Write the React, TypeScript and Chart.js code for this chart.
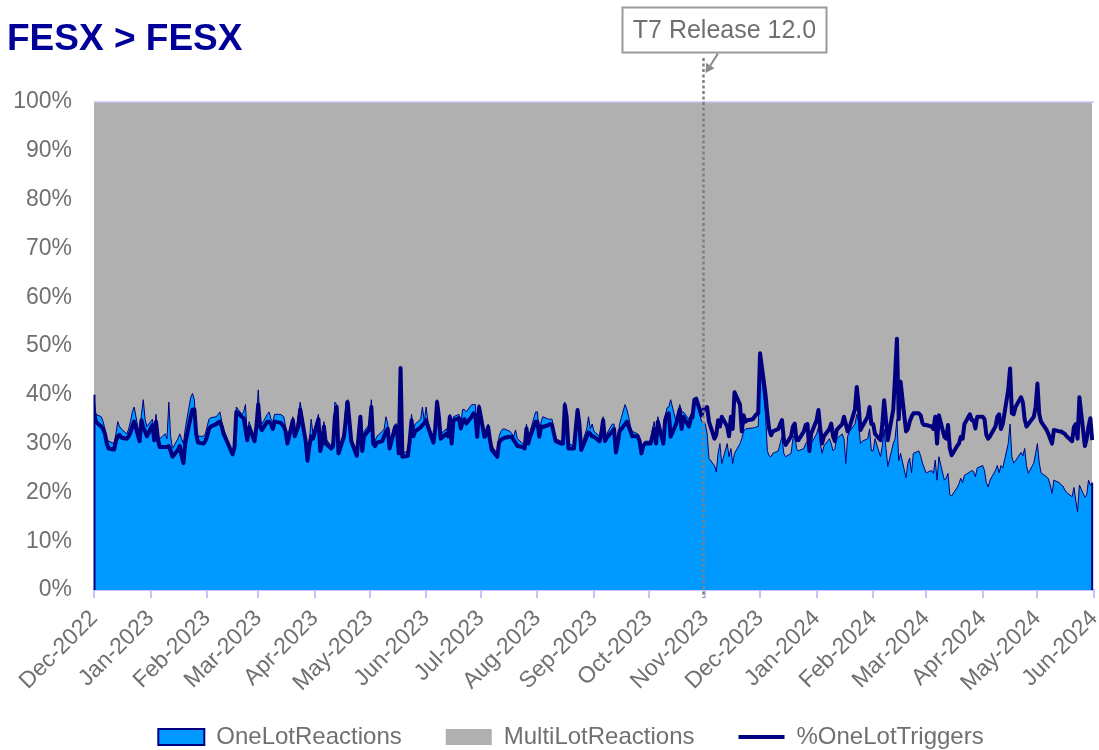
import React, { useEffect, useRef } from 'react';
import { Chart, registerables } from 'chart.js';

Chart.register(...registerables);

const FONT = "'Liberation Sans', Arial, Helvetica, sans-serif";
const NAVY = '#000080';
const BLUE = '#0099FF';
const GREY = '#B0B0B0';
const TEXT_GREY = '#707070';
const LAVENDER = '#C4C4FA';

const TITLE = 'FESX > FESX';
const RELEASE_LABEL = 'T7 Release 12.0';
const RELEASE_DATE: [number, number, number] = [2023, 9, 31];

// months covered by the data (year, month index)
const MONTHS: [number, number][] = [
  [2022, 11], [2023, 0], [2023, 1], [2023, 2], [2023, 3], [2023, 4], [2023, 5],
  [2023, 6], [2023, 7], [2023, 8], [2023, 9], [2023, 10], [2023, 11],
  [2024, 0], [2024, 1], [2024, 2], [2024, 3], [2024, 4],
];

const TICK_LABELS = [
  'Dec-2022', 'Jan-2023', 'Feb-2023', 'Mar-2023', 'Apr-2023', 'May-2023', 'Jun-2023',
  'Jul-2023', 'Aug-2023', 'Sep-2023', 'Oct-2023', 'Nov-2023', 'Dec-2023',
  'Jan-2024', 'Feb-2024', 'Mar-2024', 'Apr-2024', 'May-2024', 'Jun-2024',
];

// % one-lot reactions per trading day, one row per month
const ONE_LOT_REACTIONS: number[][] = [
  [40.0, 36.0, 35.5, 34.5, 33.0, 31.0, 30.5, 30.0, 32.0, 34.5, 33.5, 33.0, 32.0, 33.0, 34.5, 36.5, 37.5, 31.5, 36.0, 39.0, 35.0, 33.5],
  [35.0, 32.0, 36.0, 32.0, 31.0, 32.0, 31.0, 38.5, 31.5, 29.0, 31.0, 32.0, 31.0, 30.0, 33.0, 39.5, 40.3, 39.0, 33.0, 31.5, 31.5, 32.0],
  [33.5, 35.0, 35.3, 35.5, 36.0, 36.5, 34.5, 33.0, 30.0, 29.0, 28.5, 30.0, 37.5, 36.0, 36.5, 38.0, 31.5, 34.5, 31.0, 35.0],
  [41.0, 35.0, 34.0, 36.0, 36.5, 35.0, 34.5, 36.0, 36.0, 35.8, 35.5, 33.5, 31.0, 35.5, 32.5, 33.5, 36.0, 38.5, 31.5, 27.0, 30.5, 35.0, 32.0],
  [36.0, 29.0, 31.0, 34.5, 31.0, 29.5, 31.0, 38.5, 38.0, 28.5, 32.5, 38.5, 39.0, 35.5, 31.0, 28.0, 33.0, 35.8, 29.0, 32.5],
  [34.0, 39.0, 31.0, 30.5, 31.5, 32.5, 33.0, 35.5, 34.0, 30.0, 34.0, 34.0, 29.0, 45.5, 28.0, 28.5, 31.5, 36.0, 32.5, 34.0, 35.0, 37.5, 34.5],
  [37.5, 34.5, 31.0, 34.0, 39.0, 36.5, 32.0, 33.0, 32.5, 36.0, 31.0, 35.5, 36.0, 34.0, 37.0, 37.0, 36.5, 38.0, 38.0, 38.0, 32.0, 38.0],
  [32.5, 33.0, 34.0, 31.5, 29.5, 28.0, 31.5, 32.5, 33.0, 33.0, 32.5, 32.0, 31.5, 32.8, 31.0, 30.0, 29.5, 34.0, 31.0, 32.5, 36.5],
  [36.5, 32.0, 34.5, 35.5, 35.0, 35.0, 35.0, 33.0, 31.0, 30.5, 30.5, 38.5, 36.0, 30.0, 29.5, 34.0, 37.0, 35.0, 29.5, 33.0, 35.5, 33.0, 34.0],
  [32.5, 31.5, 33.5, 35.5, 31.5, 32.0, 34.0, 34.0, 29.0, 31.0, 34.0, 38.0, 37.0, 35.5, 33.5, 32.5, 32.0, 31.0, 28.5, 30.0, 30.5],
  [30.5, 33.0, 34.5, 30.5, 35.5, 30.5, 35.5, 37.3, 37.5, 39.0, 34.5, 36.5, 38.0, 36.5, 36.5, 35.0, 36.0, 36.5, 38.0, 38.5, 34.5, 34.5],
  [34.0, 32.0, 27.0, 25.5, 24.2, 28.0, 30.0, 25.9, 30.0, 27.3, 29.0, 25.9, 28.0, 30.0, 31.0, 32.5, 33.0, 33.1, 33.2, 33.3, 33.4, 33.5],
  [47.0, 36.0, 28.5, 27.5, 27.3, 28.0, 28.5, 30.0, 31.4, 28.0, 27.3, 28.0, 31.0, 32.0, 29.0, 28.5, 29.0, 30.0, 30.5, 28.3, 30.0],
  [32.0, 33.4, 30.0, 28.0, 29.5, 31.0, 30.0, 28.5, 29.0, 31.0, 32.0, 31.0, 25.9, 31.5, 32.5, 34.0, 36.0, 34.5, 30.0, 30.5, 31.0, 33.0, 28.5],
  [28.5, 31.0, 27.3, 29.5, 33.0, 29.0, 25.3, 30.0, 31.0, 35.0, 26.5, 28.0, 23.0, 26.0, 27.0, 24.0, 28.0, 28.5, 27.5, 26.0, 25.0],
  [24.0, 24.5, 23.9, 26.6, 22.5, 27.3, 22.5, 23.0, 23.9, 19.5, 19.3, 21.0, 21.8, 22.9, 22.0, 23.5, 24.2, 24.5, 24.3, 23.2, 25.0],
  [25.5, 24.5, 22.0, 21.1, 22.5, 24.5, 25.5, 24.0, 25.5, 25.0, 30.0, 34.0, 27.3, 26.0, 26.5, 28.2, 27.5, 29.0, 25.5, 23.9, 26.0, 28.0],
  [30.0, 26.0, 24.0, 23.2, 22.8, 21.5, 19.8, 22.5, 22.0, 21.5, 21.3, 20.5, 20.0, 19.1, 21.0, 18.4, 16.0, 21.5, 19.0, 19.5, 22.5, 21.5, 22.0],
];

// % one-lot triggers per trading day, one row per month
const ONE_LOT_TRIGGERS: number[][] = [
  [36.5, 34.5, 33.5, 33.0, 32.0, 30.0, 29.0, 28.8, 30.5, 31.5, 31.8, 31.2, 31.0, 31.5, 32.3, 33.5, 34.5, 30.5, 34.8, 33.2, 32.5, 31.5],
  [33.8, 30.7, 34.5, 31.0, 29.3, 29.3, 29.3, 29.5, 28.5, 27.3, 28.7, 29.5, 27.5, 26.0, 30.0, 35.5, 37.0, 37.0, 32.0, 30.2, 30.0, 30.5],
  [31.5, 33.0, 33.5, 34.0, 34.3, 34.5, 33.5, 32.0, 29.5, 28.5, 27.8, 29.3, 36.5, 35.5, 35.2, 33.0, 30.7, 33.4, 30.5, 33.5],
  [38.0, 33.5, 32.8, 34.5, 34.5, 34.0, 33.0, 34.5, 34.3, 34.0, 33.5, 32.5, 30.0, 34.8, 31.5, 32.5, 33.5, 37.0, 30.5, 26.5, 29.5, 31.5, 31.0],
  [35.0, 28.5, 30.0, 33.5, 30.0, 29.0, 29.5, 35.5, 37.5, 28.0, 31.5, 35.0, 38.5, 34.5, 30.5, 27.5, 31.5, 35.5, 28.5, 31.5],
  [33.0, 37.5, 30.0, 29.5, 30.2, 30.5, 31.5, 32.5, 33.0, 29.0, 33.4, 33.4, 28.0, 45.5, 27.3, 27.5, 30.5, 34.8, 31.5, 32.5, 33.3, 33.8, 34.2],
  [34.8, 33.5, 30.2, 33.1, 38.5, 35.5, 31.0, 32.0, 31.5, 35.5, 30.0, 34.8, 35.2, 33.1, 34.5, 35.0, 34.1, 35.5, 36.2, 35.8, 31.4, 37.5],
  [31.4, 31.8, 33.4, 30.7, 28.7, 27.3, 30.3, 30.7, 31.0, 31.2, 31.4, 31.4, 30.7, 30.2, 29.5, 29.3, 29.0, 33.1, 30.0, 31.4, 34.5],
  [34.5, 31.4, 33.5, 33.4, 33.8, 34.0, 33.8, 32.1, 30.5, 30.0, 30.0, 37.9, 35.5, 29.0, 29.0, 33.0, 36.9, 34.0, 28.7, 31.4, 32.3, 32.0, 31.5],
  [31.4, 30.5, 32.0, 34.8, 30.5, 31.2, 32.5, 33.0, 28.2, 30.0, 32.5, 34.0, 34.5, 33.5, 32.5, 31.5, 31.5, 30.5, 28.0, 29.5, 30.0],
  [30.0, 31.5, 33.0, 30.0, 34.5, 30.0, 34.8, 36.0, 36.2, 31.4, 34.0, 35.5, 37.0, 33.0, 35.5, 33.5, 35.0, 35.5, 39.0, 39.2, 35.8, 37.0],
  [37.0, 37.5, 34.5, 31.0, 31.8, 34.8, 33.5, 35.5, 33.5, 31.5, 35.5, 33.0, 40.5, 38.0, 32.5, 35.8, 34.5, 34.8, 35.0, 35.5, 36.0, 36.2],
  [48.5, 40.0, 36.0, 33.0, 31.7, 32.5, 33.0, 34.0, 34.8, 31.0, 29.7, 31.5, 33.5, 34.1, 30.8, 30.7, 32.5, 33.8, 34.0, 28.5, 32.0],
  [34.8, 36.9, 33.0, 30.0, 31.5, 33.0, 34.1, 31.5, 30.5, 32.8, 34.0, 35.5, 34.0, 32.5, 33.3, 37.0, 41.6, 38.0, 32.8, 33.5, 35.5, 37.5, 34.0],
  [34.0, 32.0, 30.7, 34.0, 38.9, 34.8, 30.7, 37.0, 44.0, 51.5, 35.0, 42.7, 32.5, 33.0, 34.5, 35.5, 36.2, 36.2, 35.8, 34.2, 33.8],
  [33.8, 33.5, 33.0, 35.5, 30.0, 35.8, 31.4, 31.0, 33.8, 29.0, 27.6, 29.5, 30.0, 31.4, 31.0, 34.0, 36.0, 34.8, 34.8, 33.1, 35.5],
  [35.5, 35.0, 31.8, 31.0, 31.5, 33.5, 35.5, 36.0, 33.0, 34.0, 41.0, 45.4, 36.2, 36.0, 37.5, 39.5, 38.5, 35.0, 33.5, 34.0, 35.5, 37.5],
  [42.3, 36.0, 34.5, 32.8, 32.0, 31.0, 30.0, 32.8, 32.5, 32.5, 32.2, 32.0, 31.5, 30.5, 33.4, 34.0, 31.0, 39.5, 29.5, 31.0, 33.5, 35.2, 30.7],
];

const DAY_MS = 86400000;
const ORIGIN = Date.UTC(MONTHS[0][0], MONTHS[0][1], 1);
const dayIndex = (y: number, m: number, d: number) => Math.round((Date.UTC(y, m, d) - ORIGIN) / DAY_MS);

function weekdaysOf(y: number, m: number): number[] {
  const out: number[] = [];
  const n = new Date(Date.UTC(y, m + 1, 0)).getUTCDate();
  for (let d = 1; d <= n; d++) {
    const wd = new Date(Date.UTC(y, m, d)).getUTCDay();
    if (wd !== 0 && wd !== 6) out.push(dayIndex(y, m, d));
  }
  return out;
}

type Pt = { x: number; y: number };

function toPoints(rows: number[][], f: (v: number) => number = (v) => v): Pt[] {
  const pts: Pt[] = [];
  rows.forEach((vals, mi) => {
    const [y, m] = MONTHS[mi];
    const days = weekdaysOf(y, m);
    vals.forEach((v, i) => {
      const di = vals.length === days.length ? i : Math.round((i * (days.length - 1)) / Math.max(1, vals.length - 1));
      pts.push({ x: days[Math.min(di, days.length - 1)], y: f(v) });
    });
  });
  return pts;
}

const TICK_VALUES = TICK_LABELS.map((_, i) => {
  const y = MONTHS[0][0] + Math.floor((MONTHS[0][1] + i) / 12);
  const m = (MONTHS[0][1] + i) % 12;
  return dayIndex(y, m, 1);
});

const decorations = {
  id: 'decorations',
  afterLayout(chart: any) {
    const lg = chart.legend;
    if (lg) {
      lg.left += 24;
      lg.right += 24;
      lg.top += 9;
      lg.bottom += 9;
    }
    // let the rotated month labels use the space down to the legend
    const xs = chart.scales.x;
    if (xs) xs.bottom = chart.height;
  },
  afterDatasetDraw(chart: any, args: any) {
    if (args.index !== 0) return;
    const pts = args.meta.data;
    if (!pts || !pts.length) return;
    const ctx = chart.ctx;
    const y0 = chart.scales.y.getPixelForValue(0);
    const first = pts[0];
    const last = pts[pts.length - 1];
    ctx.save();
    ctx.strokeStyle = NAVY;
    ctx.lineWidth = 2;
    ctx.beginPath();
    ctx.moveTo(first.x + 0.5, y0);
    ctx.lineTo(first.x + 0.5, first.y);
    ctx.moveTo(last.x, y0);
    ctx.lineTo(last.x, last.y);
    ctx.stroke();
    ctx.restore();
  },
  afterDatasetsDraw(chart: any) {
    const { ctx, chartArea } = chart;
    ctx.save();
    ctx.strokeStyle = LAVENDER;
    ctx.lineWidth = 1.5;
    ctx.beginPath();
    ctx.moveTo(chartArea.left, chartArea.top);
    ctx.lineTo(chartArea.right, chartArea.top);
    ctx.stroke();
    ctx.restore();
  },
  afterDraw(chart: any) {
    const ctx = chart.ctx;
    ctx.save();
    // title
    ctx.font = `bold 37px ${FONT}`;
    ctx.fillStyle = '#000099';
    ctx.textAlign = 'left';
    ctx.textBaseline = 'alphabetic';
    ctx.fillText(TITLE, 7, 50);

    // release marker
    const xr = chart.scales.x.getPixelForValue(dayIndex(...RELEASE_DATE));
    ctx.strokeStyle = '#808080';
    ctx.lineWidth = 2.5;
    ctx.setLineDash([3, 2.5]);
    ctx.beginPath();
    ctx.moveTo(xr, 58);
    ctx.lineTo(xr, 598);
    ctx.stroke();
    ctx.setLineDash([]);

    // label box
    const bx = 622.5, by = 7.5, bw = 204, bh = 45;
    ctx.fillStyle = '#FFFFFF';
    ctx.fillRect(bx, by, bw, bh);
    ctx.strokeStyle = '#9A9A9A';
    ctx.lineWidth = 2;
    ctx.strokeRect(bx, by, bw, bh);
    ctx.font = `25px ${FONT}`;
    ctx.fillStyle = TEXT_GREY;
    ctx.textAlign = 'center';
    ctx.textBaseline = 'middle';
    ctx.fillText(RELEASE_LABEL, bx + bw / 2, by + bh / 2 + 1);

    // arrow
    const sx = 718, sy = by + bh + 1;
    const tx = xr + 2, ty = 73;
    const dx = tx - sx, dy = ty - sy;
    const len = Math.hypot(dx, dy);
    const ux = dx / len, uy = dy / len;
    const hl = 9, hw = 5;
    const bxm = tx - ux * hl, bym = ty - uy * hl;
    ctx.strokeStyle = '#8A8A8A';
    ctx.fillStyle = '#8A8A8A';
    ctx.lineWidth = 2;
    ctx.beginPath();
    ctx.moveTo(sx, sy);
    ctx.lineTo(bxm, bym);
    ctx.stroke();
    ctx.beginPath();
    ctx.moveTo(tx, ty);
    ctx.lineTo(bxm - uy * hw, bym + ux * hw);
    ctx.lineTo(bxm + uy * hw, bym - ux * hw);
    ctx.closePath();
    ctx.fill();
    ctx.restore();
  },
};

export default function App() {
  const ref = useRef<HTMLCanvasElement>(null);

  useEffect(() => {
    document.body.style.margin = '0';
    const canvas = ref.current;
    if (!canvas) return;

    const oneLot = toPoints(ONE_LOT_REACTIONS);
    const multiLot = toPoints(ONE_LOT_REACTIONS, (v) => 100 - v);
    const triggers = toPoints(ONE_LOT_TRIGGERS);

    const chart = new Chart(canvas, {
      type: 'line',
      data: {
        datasets: [
          {
            label: 'OneLotReactions',
            data: oneLot,
            backgroundColor: BLUE,
            borderColor: NAVY,
            borderWidth: 1,
            pointRadius: 0,
            pointBorderWidth: 2,
            pointStyle: 'rect',
            fill: 'origin',
            stack: 'reactions',
            order: 1,
            tension: 0,
          } as any,
          {
            label: 'MultiLotReactions',
            data: multiLot,
            backgroundColor: GREY,
            borderColor: GREY,
            borderWidth: 0,
            pointRadius: 0,
            pointBorderWidth: 0,
            pointStyle: 'rect',
            fill: 'origin',
            stack: 'reactions',
            order: 2,
            tension: 0,
          } as any,
          {
            label: '%OneLotTriggers',
            data: triggers,
            backgroundColor: NAVY,
            borderColor: NAVY,
            borderWidth: 4,
            borderJoinStyle: 'round',
            pointRadius: 0,
            pointBorderWidth: 4,
            pointStyle: 'line',
            fill: false,
            stack: 'triggers',
            order: 0,
            tension: 0,
          } as any,
        ],
      },
      options: {
        responsive: false,
        animation: false,
        devicePixelRatio: 1,
        events: [],
        layout: { padding: { top: 102, right: 5, bottom: 0, left: 0 } },
        scales: {
          x: {
            type: 'linear',
            min: TICK_VALUES[0],
            max: TICK_VALUES[TICK_VALUES.length - 1],
            afterBuildTicks: (scale: any) => {
              scale.ticks = TICK_VALUES.map((v) => ({ value: v }));
            },
            afterFit: (scale: any) => {
              scale.height = 82;
              scale.paddingLeft = 0;
              scale.paddingRight = 0;
            },
            border: { display: true, color: LAVENDER, width: 2 },
            grid: { display: true, drawOnChartArea: false, drawTicks: true, tickLength: 8, color: LAVENDER, lineWidth: 2 },
            ticks: {
              autoSkip: false,
              maxRotation: 45,
              minRotation: 45,
              padding: 7,
              color: TEXT_GREY,
              font: { family: FONT, size: 23 },
              callback: (_v: any, i: number) => TICK_LABELS[i] ?? '',
            },
          },
          y: {
            stacked: true,
            min: 0,
            max: 100,
            afterFit: (scale: any) => {
              scale.width = 94;
            },
            border: { display: false },
            grid: { display: false, drawTicks: false },
            ticks: {
              stepSize: 10,
              padding: 22,
              color: TEXT_GREY,
              font: { family: FONT, size: 23 },
              callback: (v: any) => `${v}%`,
            },
          },
        },
        plugins: {
          title: { display: false },
          tooltip: { enabled: false },
          legend: {
            display: true,
            position: 'bottom',
            labels: {
              usePointStyle: true,
              pointStyleWidth: 46,
              boxHeight: 16,
              padding: 44,
              color: TEXT_GREY,
              font: { family: FONT, size: 24 },
              sort: (a: any, b: any) => a.datasetIndex - b.datasetIndex,
            },
          },
        },
      } as any,
      plugins: [decorations],
    });

    return () => chart.destroy();
  }, []);

  return (
    <div style={{ width: 1099, height: 750 }}>
      <canvas ref={ref} width={1099} height={750} style={{ display: 'block' }} />
    </div>
  );
}
